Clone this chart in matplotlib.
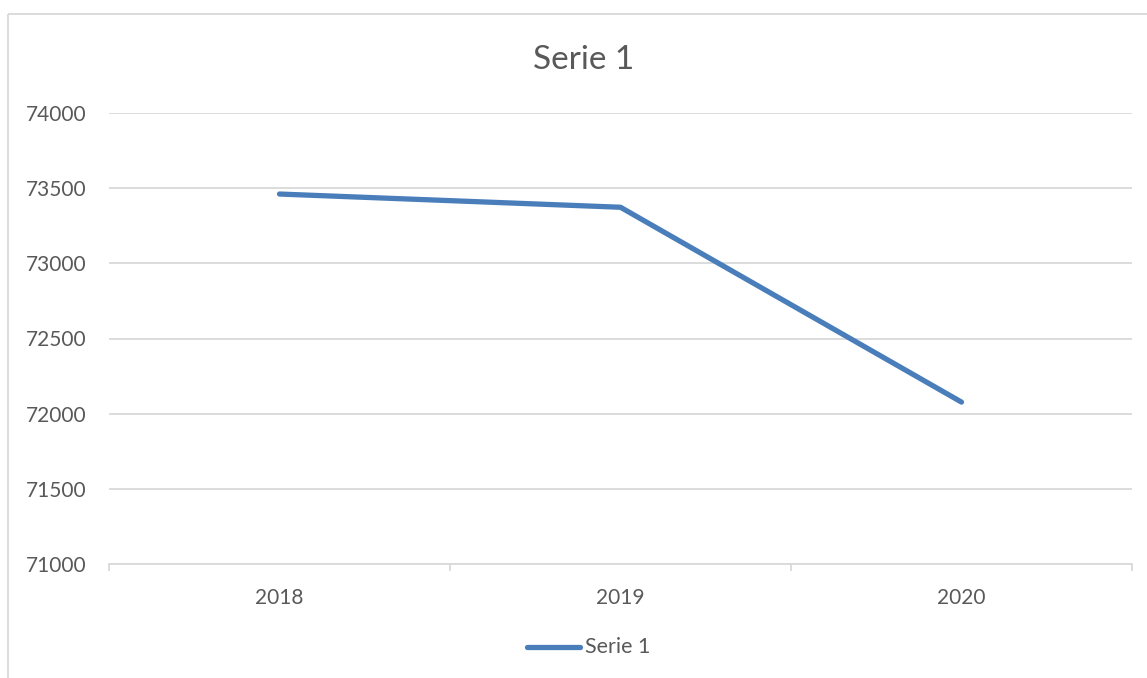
import matplotlib
matplotlib.use("Agg")
import matplotlib.pyplot as plt
from matplotlib.patches import Rectangle
from matplotlib.lines import Line2D

categories = ["2018", "2019", "2020"]
values = [73461, 73373, 72077]
series_name = "Serie 1"
yticks = [71000, 71500, 72000, 72500, 73000, 73500, 74000]

W, H = 1147, 678
plt.rcParams['font.family'] = ['Lato', 'DejaVu Sans']
fig = plt.figure(figsize=(W / 100, H / 100), dpi=100)

# chart border
fig.patches.append(Rectangle((8 / W, 1 - 14 / H), 1.5, -1.5, transform=fig.transFigure,
                             fill=False, edgecolor='#D9D9D9', linewidth=1.3))

x0, x1, y0, y1 = 109, 1132, 113, 564
ax = fig.add_axes([x0 / W, 1 - y1 / H, (x1 - x0) / W, (y1 - y0) / H])
xs = list(range(len(categories)))
ax.plot(xs, values, color='#4A7EBB', linewidth=3.8, solid_capstyle='round',
        solid_joinstyle='round', zorder=3)
ax.set_xlim(-0.5, len(categories) - 0.5)
ax.set_ylim(71000, 74000)
ax.set_yticks(yticks)
ax.set_yticklabels([str(v) for v in yticks])
ax.set_xticks(xs)
ax.set_xticklabels(categories)
ax.set_xticks([i - 0.5 for i in range(len(categories) + 1)], minor=True)
ax.grid(axis='y', color='#D9D9D9', linewidth=1.3)
ax.set_axisbelow(True)
for s in ['top', 'right', 'left']:
    ax.spines[s].set_visible(False)
ax.spines['bottom'].set_color('#D9D9D9')
ax.spines['bottom'].set_linewidth(1.3)
ax.tick_params(axis='y', length=0, pad=16, labelsize=15, labelcolor='#595959')
ax.tick_params(axis='x', which='major', length=0, pad=17, labelsize=15, labelcolor='#595959')
ax.tick_params(axis='x', which='minor', length=5, width=1.3, color='#D9D9D9', direction='out')

fig.text(584 / W, 1 - 60 / H, series_name, ha='center', va='center', fontsize=24, color='#595959')

# legend
fig.add_artist(Line2D([527 / W, 580 / W], [1 - 647 / H, 1 - 647 / H], transform=fig.transFigure,
                      color='#4A7EBB', linewidth=3.8, solid_capstyle='round'))
fig.text(585 / W, 1 - 647 / H, series_name, ha='left', va='center', fontsize=15.5, color='#595959')

fig.savefig("out.png", dpi=100)
